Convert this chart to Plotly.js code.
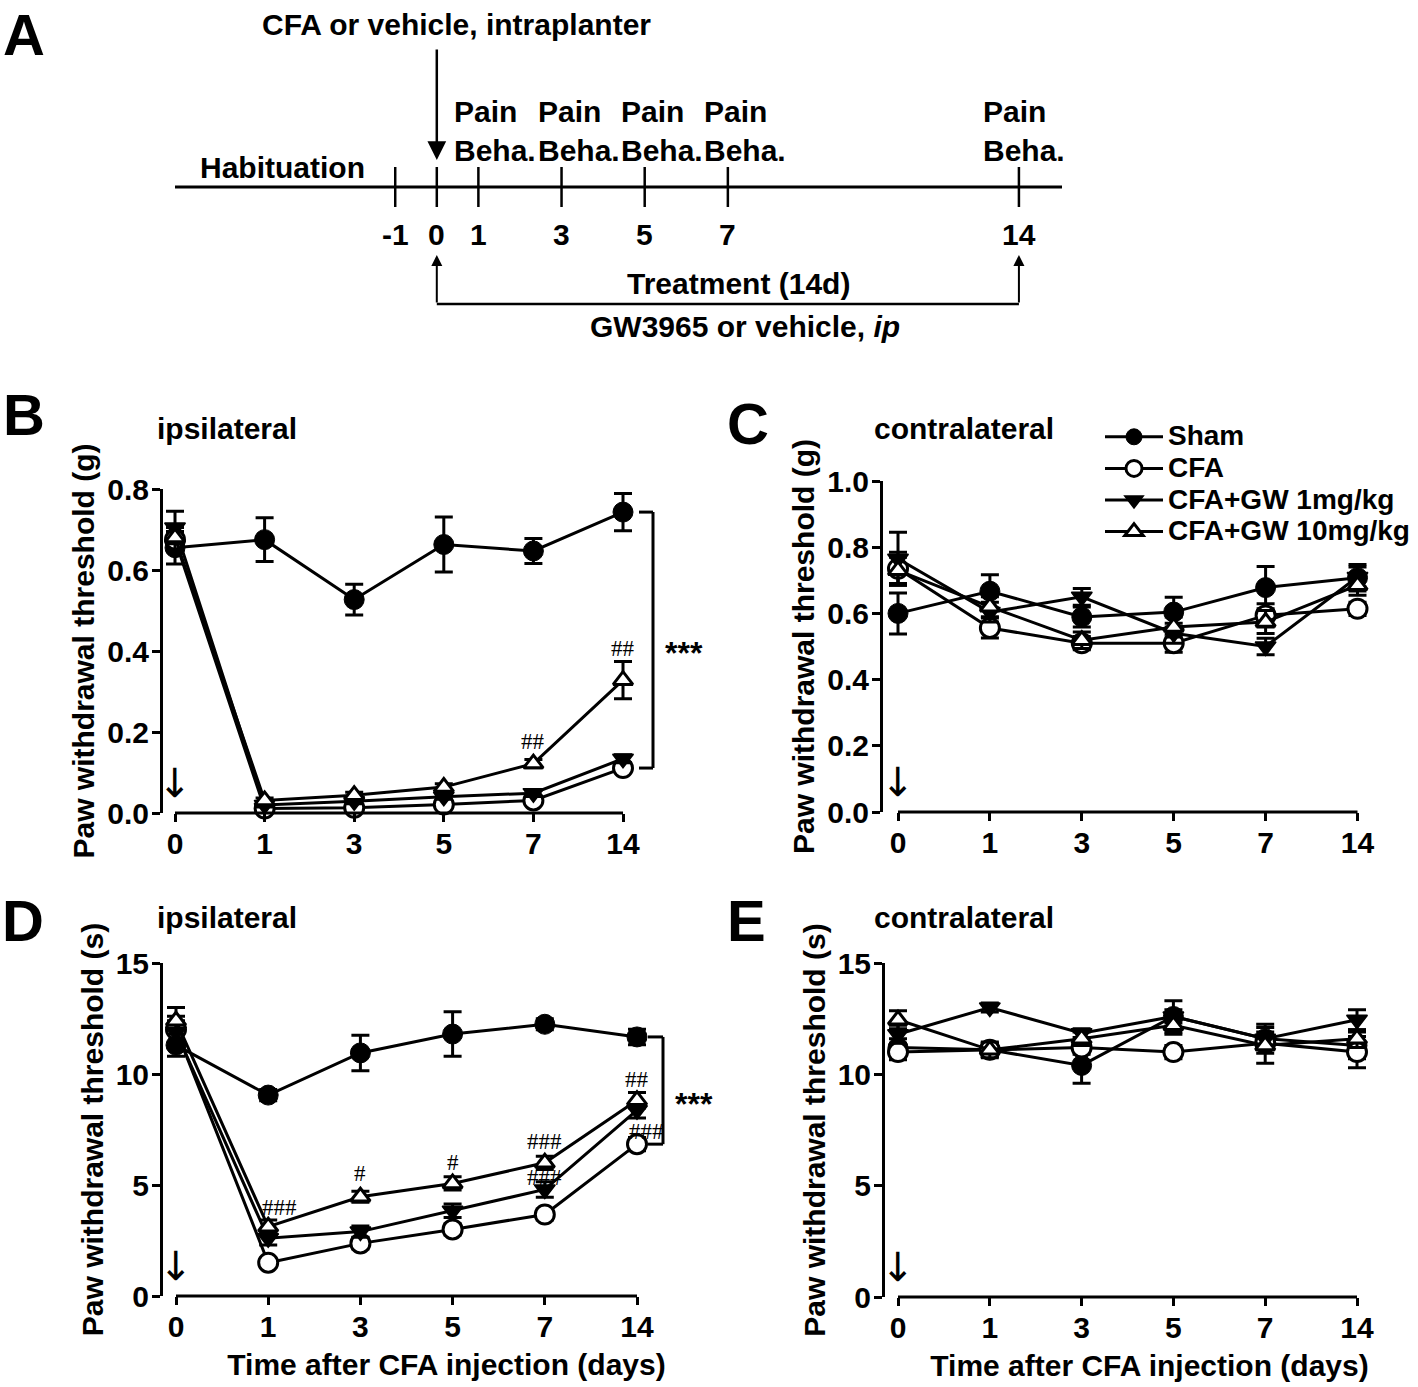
<!DOCTYPE html>
<html><head><meta charset="utf-8">
<script src="https://cdn.plot.ly/plotly-3.0.1.min.js"></script>
<style>html,body{margin:0;padding:0;background:#fff;} #chart{width:1418px;height:1387px;}</style>
</head><body><div id="chart"></div>
<script>
// ---------------- DATA ----------------
const days = ['0','1','3','5','7','14'];
const seriesNames = ['Sham','CFA','CFA+GW 1mg/kg','CFA+GW 10mg/kg'];

// B: von Frey, ipsilateral (g)
const B_sham = [0.655, 0.675, 0.527, 0.663, 0.647, 0.743];
const B_sham_err = [0.04, 0.054, 0.038, 0.068, 0.031, 0.046];
const B_cfa = [0.675, 0.011, 0.013, 0.021, 0.031, 0.111];
const B_cfa_err = [0.03, 0.005, 0.005, 0.006, 0.008, 0.01];
const B_gw1 = [0.705, 0.02, 0.029, 0.04, 0.049, 0.134];
const B_gw1_err = [0.04, 0.005, 0.006, 0.006, 0.008, 0.01];
const B_gw10 = [0.68, 0.031, 0.044, 0.064, 0.122, 0.328];
const B_gw10_err = [0.03, 0.006, 0.007, 0.008, 0.01, 0.046];

// C: von Frey, contralateral (g)
const C_sham = [0.60, 0.667, 0.589, 0.604, 0.678, 0.708];
const C_sham_err = [0.062, 0.05, 0.03, 0.045, 0.064, 0.04];
const C_cfa = [0.735, 0.556, 0.51, 0.51, 0.594, 0.614];
const C_cfa_err = [0.05, 0.03, 0.02, 0.027, 0.035, 0.02];
const C_gw1 = [0.765, 0.604, 0.65, 0.54, 0.50, 0.71];
const C_gw1_err = [0.08, 0.03, 0.025, 0.03, 0.025, 0.03];
const C_gw10 = [0.73, 0.62, 0.519, 0.559, 0.574, 0.685];
const C_gw10_err = [0.04, 0.03, 0.025, 0.03, 0.035, 0.03];

// D: thermal, ipsilateral (s)
const D_sham = [11.3, 9.05, 10.95, 11.8, 12.24, 11.67];
const D_sham_err = [0.5, 0.25, 0.8, 1.0, 0.25, 0.35];
const D_cfa = [12.0, 1.5, 2.37, 3.0, 3.67, 6.84];
const D_cfa_err = [0.6, 0.2, 0.25, 0.25, 0.25, 0.3];
const D_gw1 = [11.9, 2.6, 2.9, 3.84, 4.8, 8.37];
const D_gw1_err = [0.5, 0.3, 0.25, 0.3, 0.35, 0.35];
const D_gw10 = [12.4, 3.12, 4.47, 5.07, 6.0, 8.82];
const D_gw10_err = [0.6, 0.3, 0.25, 0.3, 0.3, 0.35];

// E: thermal, contralateral (s)
const E_sham = [11.2, 11.1, 10.4, 12.6, 11.6, 11.3];
const E_sham_err = [0.4, 0.3, 0.8, 0.7, 0.65, 0.6];
const E_cfa = [11.0, 11.1, 11.2, 11.0, 11.4, 11.0];
const E_cfa_err = [0.35, 0.3, 0.3, 0.3, 0.3, 0.7];
const E_gw1 = [11.8, 13.0, 11.85, 12.6, 11.6, 12.45];
const E_gw1_err = [0.4, 0.2, 0.2, 0.3, 0.3, 0.45];
const E_gw10 = [12.45, 11.1, 11.6, 12.2, 11.3, 11.6];
const E_gw10_err = [0.4, 0.35, 0.3, 0.4, 0.8, 0.4];

// significance marks
const sigB = [
  {series:'gw10', day:'7', text:'##'},
  {series:'gw10', day:'14', text:'##'}
];
const sigD = [
  {series:'gw10', day:'1', text:'###'},
  {series:'gw10', day:'3', text:'#'},
  {series:'gw10', day:'5', text:'#'},
  {series:'gw10', day:'7', text:'###'},
  {series:'gw1', day:'7', text:'###'},
  {series:'gw10', day:'14', text:'##'},
  {series:'gw1', day:'14', text:'###'}
];

// Panel A timeline
const timelineDays = [-1, 0, 1, 3, 5, 7, 14];
const painDays = [1, 3, 5, 7, 14];

// ---------------- LAYOUT / STYLE ----------------
const W = 1418, H = 1387;
const FONT = 'Arial, "Liberation Sans", Helvetica, sans-serif';
const SERIF = '"Times New Roman", "Liberation Serif", serif';
const BLACK = '#000';
const px2x = p => p / W;
const px2y = p => 1 - p / H;

const geom = {
  B: {n:'', axisX:163, cat0:175, step:89.6, right:725, y0:813, yTop:489, yMax:0.8, dtick:0.2, fmt:'.1f',
      ytitle:'Paw withdrawal threshold (g)', xtitle:null,
      data:{sham:[B_sham,B_sham_err], cfa:[B_cfa,B_cfa_err], gw1:[B_gw1,B_gw1_err], gw10:[B_gw10,B_gw10_err]}},
  C: {n:'2', axisX:883, cat0:898, step:91.9, right:1414, y0:812, yTop:481, yMax:1.0, dtick:0.2, fmt:'.1f',
      ytitle:'Paw withdrawal threshold (g)', xtitle:null,
      data:{sham:[C_sham,C_sham_err], cfa:[C_cfa,C_cfa_err], gw1:[C_gw1,C_gw1_err], gw10:[C_gw10,C_gw10_err]}},
  D: {n:'3', axisX:163, cat0:176, step:92.2, right:730, y0:1296, yTop:963, yMax:15, dtick:5, fmt:'d',
      ytitle:'Paw withdrawal threshold (s)', xtitle:'Time after CFA injection (days)',
      data:{sham:[D_sham,D_sham_err], cfa:[D_cfa,D_cfa_err], gw1:[D_gw1,D_gw1_err], gw10:[D_gw10,D_gw10_err]}},
  E: {n:'4', axisX:885, cat0:898, step:91.8, right:1414, y0:1297, yTop:963, yMax:15, dtick:5, fmt:'d',
      ytitle:'Paw withdrawal threshold (s)', xtitle:'Time after CFA injection (days)',
      data:{sham:[E_sham,E_sham_err], cfa:[E_cfa,E_cfa_err], gw1:[E_gw1,E_gw1_err], gw10:[E_gw10,E_gw10_err]}}
};

const seriesKeys = ['sham','cfa','gw1','gw10'];
const markerStyle = {
  sham: {symbol:'circle', size:20, color:BLACK, line:{color:BLACK, width:1}},
  cfa:  {symbol:'circle', size:19, color:'#fff', line:{color:BLACK, width:3}},
  gw1:  {symbol:'triangle-down', size:18, color:BLACK, line:{color:BLACK, width:1.5}},
  gw10: {symbol:'triangle-up', size:17, color:'#fff', line:{color:BLACK, width:3}}
};

const tickFont = {family:FONT, size:30, color:BLACK, weight:'bold'};
const titleFont = {family:FONT, size:30, color:BLACK, weight:'bold'};
const xIdx = days.map((d, i) => i);

const traces = [];
const layout = {
  width:W, height:H, margin:{l:0, r:0, t:0, b:0},
  paper_bgcolor:'#fff', plot_bgcolor:'rgba(0,0,0,0)',
  showlegend:true,
  legend:{x:px2x(1100), y:px2y(416), xanchor:'left', yanchor:'top',
          font:{family:FONT, size:22, color:BLACK, weight:'bold'},
          bgcolor:'rgba(0,0,0,0)', tracegroupgap:0, itemwidth:58, traceorder:'normal'},
  shapes:[], annotations:[]
};

Object.keys(geom).forEach(key => {
  const g = geom[key];
  const xa = 'x' + g.n, ya = 'y' + g.n;
  const tv = [];
  for (let v = 0; v <= g.yMax + 1e-9; v += g.dtick) tv.push(+v.toFixed(3));
  layout['xaxis' + g.n] = {
    domain:[px2x(g.axisX), px2x(g.right)],
    range:[(g.axisX - g.cat0) / g.step, (g.right - g.cat0) / g.step],
    anchor:ya, tickmode:'array', tickvals:xIdx, ticktext:days,
    ticks:'outside', ticklen:8, tickwidth:3, tickcolor:BLACK,
    showline:false, showgrid:false, zeroline:false, tickfont:tickFont, fixedrange:true,
    ticklabelstandoff:-4,
    title: g.xtitle ? {text:g.xtitle, font:titleFont, standoff:11} : {text:''}
  };
  layout['yaxis' + g.n] = {
    domain:[px2y(g.y0), px2y(g.yTop)], range:[0, g.yMax], anchor:xa,
    tickmode:'array', tickvals:tv, ticktext:tv.map(v => g.fmt === '.1f' ? v.toFixed(1) : String(v)),
    ticks:'outside', ticklen:8, tickwidth:3, tickcolor:BLACK,
    showline:true, linewidth:3, linecolor:BLACK, showgrid:false, zeroline:false,
    tickfont:tickFont, fixedrange:true, ticklabelstandoff:-3,
    title:{text:g.ytitle, font:titleFont, standoff:4}
  };
  // x axis line spanning first..last category
  layout.shapes.push({type:'line', xref:xa, yref:ya + ' domain', x0:0, x1:days.length - 1, y0:0, y1:0,
                      line:{color:BLACK, width:3}, layer:'above'});
  seriesKeys.forEach((s, si) => {
    const [vals, errs] = g.data[s];
    traces.push({
      type:'scatter', mode:'lines+markers',
      name:'<span style="font-size:28px">' + seriesNames[si] + '</span>',
      x:xIdx, y:vals, xaxis:xa, yaxis:ya,
      line:{color:BLACK, width:3},
      marker:markerStyle[s],
      error_y:{type:'data', array:errs, visible:true, color:BLACK, thickness:3, width:9},
      cliponaxis:false, showlegend:key === 'C', hoverinfo:'skip'
    });
  });
  // down arrow at day 0
  layout.annotations.push({xref:xa, yref:ya + ' domain', x:0, y:0, yanchor:'middle', xanchor:'center',
    yshift:30, text:'↓', showarrow:false, font:{family:'"DejaVu Sans", sans-serif', size:40, color:BLACK}});
});

// brackets and *** (B and D)
function bracket(g, topVal, botVal, x0px, x1px, starShift) {
  const xref = 'x' + g.n, yref = 'y' + g.n, anchor = days.length - 1;
  const ln = {color:BLACK, width:3};
  layout.shapes.push(
    {type:'line', xref, yref, xsizemode:'pixel', xanchor:anchor, x0:x0px, x1:x1px, y0:topVal, y1:topVal, line:ln},
    {type:'line', xref, yref, xsizemode:'pixel', xanchor:anchor, x0:x1px, x1:x1px, y0:topVal, y1:botVal, line:ln},
    {type:'line', xref, yref, xsizemode:'pixel', xanchor:anchor, x0:x0px, x1:x1px, y0:botVal, y1:botVal, line:ln}
  );
  layout.annotations.push({xref, yref, x:anchor, y:(topVal + botVal) / 2, xanchor:'left', yanchor:'middle',
    xshift:starShift, yshift:-13, text:'***', showarrow:false, font:{family:FONT, size:32, color:BLACK, weight:'bold'}});
}
const last = days.length - 1;
bracket(geom.B, B_sham[last], B_cfa[last], 16, 30, 40);
bracket(geom.D, D_sham[last], D_cfa[last], 11, 26, 36);

// significance marks (offsets in px from the point)
const sigOffsets = {
  B: [[0, 22], [0, 32]],
  D: [[11, 19], [0, 23], [0, 21], [0, 21], [0, 12], [0, 21], [9, -21]]
};
function addSig(g, list, offs) {
  list.forEach((s, i) => {
    const idx = days.indexOf(s.day);
    const vals = g.data[s.series][0];
    layout.annotations.push({xref:'x' + g.n, yref:'y' + g.n, x:idx, y:vals[idx],
      xshift:offs[i][0], yshift:offs[i][1], text:s.text, showarrow:false,
      font:{family:SERIF, size:23, color:BLACK}});
  });
}
addSig(geom.B, sigB, sigOffsets.B);
addSig(geom.D, sigD, sigOffsets.D);

// panel letters and titles
const letters = [['A', 24, 31], ['B', 24, 411], ['C', 748, 421], ['D', 23, 917], ['E', 747, 917]];
letters.forEach(([t, x, y]) => layout.annotations.push({xref:'paper', yref:'paper', x:px2x(x), y:px2y(y),
  xanchor:'center', yanchor:'middle', yshift:-3, text:t, showarrow:false, font:{family:FONT, size:58, color:BLACK, weight:'bold'}}));
const ptitles = [['ipsilateral', 155, 428], ['contralateral', 872, 428], ['ipsilateral', 155, 917], ['contralateral', 872, 917]];
ptitles.forEach(([t, x, y]) => layout.annotations.push({xref:'paper', yref:'paper', x:px2x(x), y:px2y(y),
  xanchor:'left', yanchor:'middle', text:t, showarrow:false, font:titleFont}));

// ---------------- Panel A: timeline schematic ----------------
const TL0 = 436.8, TLS = 41.58;  // px of day 0, px per day
layout.xaxis5 = {domain:[0, 1], range:[(0 - TL0) / TLS, (W - TL0) / TLS], anchor:'y5', visible:false, fixedrange:true};
layout.yaxis5 = {domain:[px2y(350), 1], range:[350, 0], anchor:'x5', visible:false, fixedrange:true};
layout.shapes.push({type:'line', xref:'paper', yref:'y5', x0:px2x(175), x1:px2x(1062), y0:187, y1:187, line:{color:BLACK, width:3}});
timelineDays.forEach(d => {
  layout.shapes.push({type:'line', xref:'x5', yref:'y5', x0:d, x1:d, y0:167, y1:207, line:{color:BLACK, width:2.5}});
  layout.annotations.push({xref:'x5', yref:'y5', x:d, y:234, text:String(d), showarrow:false,
    xanchor:'center', yanchor:'middle', font:titleFont});
});
painDays.forEach(d => layout.annotations.push({xref:'x5', yref:'y5', x:d, y:131, text:'Pain<br>Beha.',
  showarrow:false, xanchor:'left', yanchor:'middle', align:'left', xshift:d === 14 ? -38 : -26, font:titleFont}));
layout.annotations.push(
  {xref:'paper', yref:'y5', x:px2x(282), y:167, xanchor:'center', yanchor:'middle', text:'Habituation', showarrow:false, font:titleFont},
  {xref:'paper', yref:'y5', x:px2x(456), y:24, xanchor:'center', yanchor:'middle', text:'CFA or vehicle, intraplanter', showarrow:false, font:titleFont},
  {xref:'x5', yref:'y5', x:0, y:160, ax:0, ay:-112, text:'', showarrow:true, arrowhead:2, arrowsize:1.5, arrowwidth:2.5, arrowcolor:BLACK},
  {xref:'x5', yref:'y5', x:0, y:255, ax:0, ay:49, text:'', showarrow:true, arrowhead:2, arrowsize:1.1, arrowwidth:2, arrowcolor:BLACK},
  {xref:'x5', yref:'y5', x:14, y:255, ax:0, ay:49, text:'', showarrow:true, arrowhead:2, arrowsize:1.1, arrowwidth:2, arrowcolor:BLACK},
  {xref:'paper', yref:'y5', x:px2x(738), y:283, xanchor:'center', yanchor:'middle', text:'Treatment (14d)', showarrow:false, font:titleFont},
  {xref:'paper', yref:'y5', x:px2x(745), y:326, xanchor:'center', yanchor:'middle', text:'GW3965 or vehicle, <i>ip</i>', showarrow:false, font:titleFont}
);
layout.shapes.push({type:'line', xref:'x5', yref:'y5', x0:0, x1:14, y0:304, y1:304, line:{color:BLACK, width:2.5}});

Plotly.newPlot('chart', traces, layout, {displayModeBar:false, staticPlot:true});
</script>
</body></html>
